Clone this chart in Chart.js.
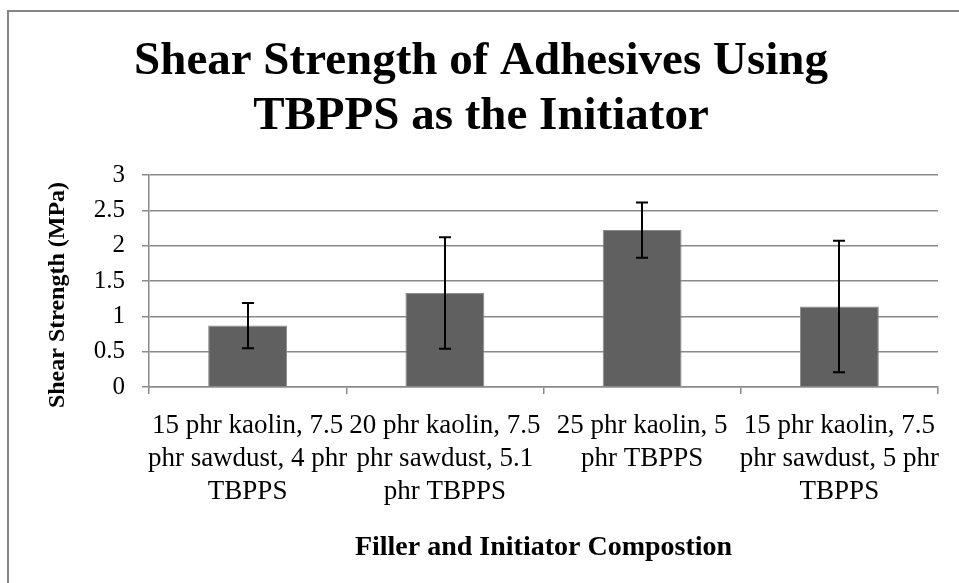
<!DOCTYPE html>
<html>
<head>
<meta charset="utf-8">
<title>Shear Strength of Adhesives</title>
<script src="https://cdn.jsdelivr.net/npm/chart.js@4/dist/chart.umd.min.js"></script>
<style>
  html, body { margin: 0; padding: 0; background: #fff; }
  #wrap { position: relative; width: 959px; height: 583px; }
</style>
</head>
<body>
<div id="wrap"><canvas id="canvas"></canvas></div>
<script>
// filler / initiator compositions (one label line per array entry)
var compositions = [
  ["15 phr kaolin, 7.5", "phr sawdust, 4 phr", "TBPPS"],
  ["20 phr kaolin, 7.5", "phr sawdust, 5.1", "phr TBPPS"],
  ["25 phr kaolin, 5", "phr TBPPS"],
  ["15 phr kaolin, 7.5", "phr sawdust, 5 phr", "TBPPS"]
];
// mean shear strength (MPa) and its +/- error
var shearStrength = [0.87, 1.33, 2.22, 1.14];
var shearError = [0.32, 0.79, 0.39, 0.93];
// y axis range
var yMin = 0, yMax = 3, yStep = 0.5;
var yTitle = "Shear Strength (MPa)";

var serif = "'Liberation Serif', 'Times New Roman', serif";
var gridGray = "#8a8a8a";

(function() {
  // white page with the grey frame on the left and top
  var frame = {
    id: "frame",
    beforeDraw: function(chart) {
      var ctx = chart.ctx;
      ctx.save();
      ctx.fillStyle = "#fff";
      ctx.fillRect(0, 0, chart.width, chart.height);
      ctx.strokeStyle = "#868686";
      ctx.lineWidth = 2;
      ctx.beginPath();
      ctx.moveTo(8, chart.height);
      ctx.lineTo(8, 11);
      ctx.lineTo(chart.width, 11);
      ctx.stroke();
      ctx.restore();
    }
  };

  // vertical axis title, sits a little below the middle of the plot
  var sideTitle = {
    id: "sideTitle",
    afterDraw: function(chart) {
      var ctx = chart.ctx;
      var area = chart.chartArea;
      ctx.save();
      ctx.translate(58, (area.top + area.bottom) / 2 + 14);
      ctx.rotate(-Math.PI / 2);
      ctx.font = "bold 24px " + serif;
      ctx.fillStyle = "#000";
      ctx.textAlign = "center";
      ctx.textBaseline = "middle";
      ctx.fillText(yTitle, 0, 0);
      ctx.restore();
    }
  };

  // black error bars with short caps
  var errorBars = {
    id: "errorBars",
    afterDatasetsDraw: function(chart) {
      var ctx = chart.ctx;
      var y = chart.scales.y;
      var meta = chart.getDatasetMeta(0);
      ctx.save();
      ctx.strokeStyle = "#000";
      ctx.lineWidth = 2;
      meta.data.forEach(function(bar, i) {
        var top = y.getPixelForValue(shearStrength[i] + shearError[i]);
        var bottom = y.getPixelForValue(shearStrength[i] - shearError[i]);
        var x = Math.round(bar.x);
        ctx.beginPath();
        ctx.moveTo(x, top); ctx.lineTo(x, bottom);
        ctx.moveTo(x - 6, top); ctx.lineTo(x + 6, top);
        ctx.moveTo(x - 6, bottom); ctx.lineTo(x + 6, bottom);
        ctx.stroke();
      });
      ctx.restore();
    }
  };

  var ctx = document.getElementById("canvas").getContext("2d");
  window.myBar = new Chart(ctx, {
    type: "bar",
    data: {
      labels: compositions,
      datasets: [{
        data: shearStrength,
        backgroundColor: "#606060",
        borderColor: "#8c8c8c",
        borderWidth: 1,
        barPercentage: 0.4,
        categoryPercentage: 1
      }]
    },
    options: {
      responsive: true,
      maintainAspectRatio: false,
      animation: false,
      layout: { padding: { left: 24, right: 21, top: 0, bottom: 0 } },
      plugins: {
        legend: { display: false },
        tooltip: { enabled: false },
        title: {
          display: true,
          text: ["Shear Strength of Adhesives Using", "TBPPS as the Initiator"],
          color: "#000",
          font: { family: serif, size: 47, weight: "bold", lineHeight: 55 / 47 },
          padding: { top: 34, bottom: 31 }
        }
      },
      scales: {
        x: {
          afterFit: function(scale) { scale.height = 583 - 387; },
          grid: {
            offset: true,
            drawOnChartArea: false,
            drawTicks: true,
            tickLength: 7,
            color: gridGray,
            lineWidth: 1.5
          },
          border: { color: gridGray, width: 1.5 },
          ticks: {
            color: "#000",
            padding: 15,
            maxRotation: 0,
            autoSkip: false,
            font: { family: serif, size: 27, lineHeight: 33 / 27 }
          },
          title: {
            display: true,
            text: "Filler and Initiator Compostion",
            color: "#000",
            font: { family: serif, size: 28, weight: "bold", lineHeight: 1.2 },
            padding: { top: 0, bottom: 18 }
          }
        },
        y: {
          min: yMin,
          max: yMax,
          afterFit: function(scale) { scale.width = 149 - 24; },
          grid: {
            color: gridGray,
            lineWidth: 1.5,
            tickLength: 7
          },
          border: { color: gridGray, width: 1.5 },
          ticks: {
            stepSize: yStep,
            color: "#000",
            padding: 17,
            font: { family: serif, size: 25 },
            callback: function(value) { return String(value); }
          }
        }
      }
    },
    plugins: [frame, sideTitle, errorBars]
  });
}());
</script>
</body>
</html>
